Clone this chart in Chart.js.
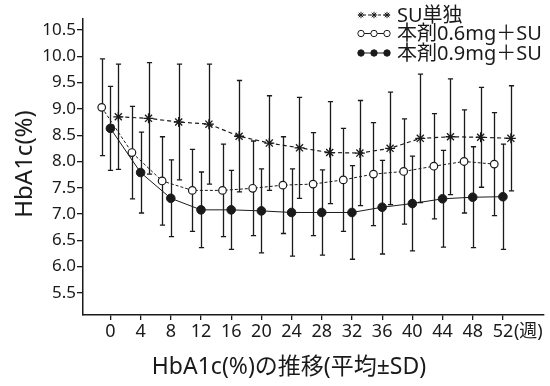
<!DOCTYPE html>
<html><head><meta charset="utf-8">
<script src="https://cdn.jsdelivr.net/npm/chart.js@4/dist/chart.umd.min.js"></script>
<style>html,body{margin:0;padding:0;background:#fff}#wrap{width:550px;height:386px;position:relative}</style>
</head><body><div id="wrap"><canvas id="c"></canvas></div>
<script>
const weeks = [0,4,8,12,16,20,24,28,32,36,40,44,48,52];
const xTickValues = [0,4,8,12,16,20,24,28,32,36,40,44,48,52];
const yTickValues = [5.5,6.0,6.5,7.0,7.5,8.0,8.5,9.0,9.5,10.0,10.5];
const seriesNames = ['SU単独','本剤0.6mg＋SU','本剤0.9mg＋SU'];
const suMean  = [8.85,8.82,8.75,8.71,8.48,8.35,8.26,8.17,8.16,8.25,8.44,8.47,8.46,8.44];
const suSD    = [1.00,1.06,1.10,1.14,1.06,0.90,0.96,0.97,1.00,1.07,1.22,1.10,0.95,1.00];
const m06Mean = [9.03,8.17,7.63,7.45,7.45,7.49,7.55,7.57,7.65,7.76,7.81,7.91,8.00,7.95];
const m06SD   = [0.92,0.88,0.84,0.78,0.88,0.90,0.92,0.98,0.98,0.98,1.00,1.00,0.98,0.98];
const m09Mean = [8.63,7.79,7.30,7.08,7.08,7.06,7.03,7.03,7.03,7.13,7.20,7.29,7.32,7.33];
const m09SD   = [0.80,0.77,0.73,0.72,0.75,0.80,0.83,0.81,0.89,0.89,0.90,0.92,0.96,1.00];
const xUnitLabel = '(週)';
const yTitle = 'HbA1c(%)';
const xTitle = 'HbA1c(%)の推移(平均±SD)';

const INK = '#1a1a1a';
const FONT = '"Noto Sans","Noto Sans CJK JP",sans-serif';
// horizontal dodge of each group (weeks) so bars do not overlap
const dodge = [1.05, -1.15, 0];
const means = [suMean, m06Mean, m09Mean];
const sds = [suSD, m06SD, m09SD];

function pts(k){ return weeks.map((w,i)=>({x:w+dodge[k], y:means[k][i], sd:sds[k][i]})); }

const errorBars = {
  id:'errorBars',
  beforeDatasetsDraw(chart){
    const {ctx, scales:{x,y}} = chart;
    ctx.save();
    ctx.strokeStyle = INK; ctx.lineWidth = 1.3;
    chart.data.datasets.forEach(ds=>{
      ds.data.forEach(p=>{
        const px = Math.round(x.getPixelForValue(p.x))+0.5;
        const yt = y.getPixelForValue(p.y+p.sd), yb = y.getPixelForValue(p.y-p.sd);
        ctx.beginPath();
        ctx.moveTo(px,yt); ctx.lineTo(px,yb);
        ctx.moveTo(px-2.6,yt); ctx.lineTo(px+2.6,yt);
        ctx.moveTo(px-2.6,yb); ctx.lineTo(px+2.6,yb);
        ctx.stroke();
      });
    });
    ctx.restore();
  },
  afterDraw(chart){
    const {ctx, scales:{x,y}} = chart;
    ctx.save();
    ctx.fillStyle = INK;
    // unit after last tick
    ctx.font = '18px '+FONT; ctx.textAlign='left'; ctx.textBaseline='middle';
    ctx.fillText(xUnitLabel, x.getPixelForValue(52)+11, 332);
    // axis titles
    ctx.font = '23px '+FONT; ctx.textAlign='center';
    ctx.fillText(xTitle, 289, 367);
    ctx.font = '24px '+FONT;
    ctx.save(); ctx.translate(25,164); ctx.rotate(-Math.PI/2);
    ctx.fillText(yTitle, 0, 0); ctx.restore();
    // legend
    const rows=[15,33.5,53];
    ctx.font='20px '+FONT; ctx.textAlign='left';
    chart.data.datasets.forEach((ds,k)=>{
      const yy=rows[k], x0=358, x1=390;
      ctx.strokeStyle=INK; ctx.lineWidth=1;
      ctx.setLineDash(k===0?[3,2]:[]);
      ctx.beginPath(); ctx.moveTo(x0,yy); ctx.lineTo(x1,yy); ctx.stroke();
      ctx.setLineDash([]);
      [x0+3,(x0+x1)/2,x1-3].forEach(mx=>{
        ctx.fillStyle = (k===1)?'#fff':INK; ctx.strokeStyle=INK;
        Chart.helpers.drawPoint(ctx,{pointStyle:ds.pointStyle,radius:3.2,borderWidth:1},mx,yy);
      });
      ctx.fillStyle=INK; ctx.strokeStyle=INK;
      ctx.fillText(ds.label, 397, yy+1);
    });
    ctx.restore();
  }
};

new Chart(document.getElementById('c'),{
  type:'line',
  data:{datasets:[
    {label:seriesNames[0],data:pts(0),borderColor:INK,borderWidth:1.2,borderDash:[4,3],pointStyle:'star',pointRadius:5,pointBorderWidth:1.3,pointBorderColor:INK,pointBackgroundColor:INK,fill:false},
    {label:seriesNames[1],data:pts(1),borderColor:INK,borderWidth:1,borderDash:[3,2],pointStyle:'circle',pointRadius:3.8,pointBorderWidth:1.2,pointBorderColor:INK,pointBackgroundColor:'#fff',fill:false},
    {label:seriesNames[2],data:pts(2),borderColor:INK,borderWidth:1,pointStyle:'circle',pointRadius:4.3,pointBorderWidth:1,pointBorderColor:INK,pointBackgroundColor:INK,fill:false}
  ]},
  options:{
    responsive:true, maintainAspectRatio:false, animation:false,
    layout:{padding:{top:19,right:0,left:0,bottom:0}},
    plugins:{legend:{display:false},tooltip:{enabled:false}},
    scales:{
      x:{type:'linear',min:-3.63,max:57.4,
        afterBuildTicks:s=>{s.ticks=xTickValues.map(v=>({value:v}));},
        afterFit:s=>{s.height=71;},
        grid:{drawOnChartArea:false,drawTicks:true,tickLength:5,color:INK,lineWidth:1.3},
        border:{color:INK,width:1.5},
        ticks:{color:INK,font:{family:FONT,size:18},padding:1,maxRotation:0,autoSkip:false,callback:v=>String(v)}},
      y:{min:5.08,max:10.71,
        afterBuildTicks:s=>{s.ticks=yTickValues.map(v=>({value:v}));},
        afterFit:s=>{s.width=83;},
        grid:{drawOnChartArea:false,drawTicks:true,tickLength:6,color:INK,lineWidth:1.3},
        border:{color:INK,width:1.5},
        ticks:{color:INK,font:{family:FONT,size:17},padding:1,autoSkip:false,callback:v=>Number(v).toFixed(1)}}
    }
  },
  plugins:[errorBars]
});
</script></body></html>
